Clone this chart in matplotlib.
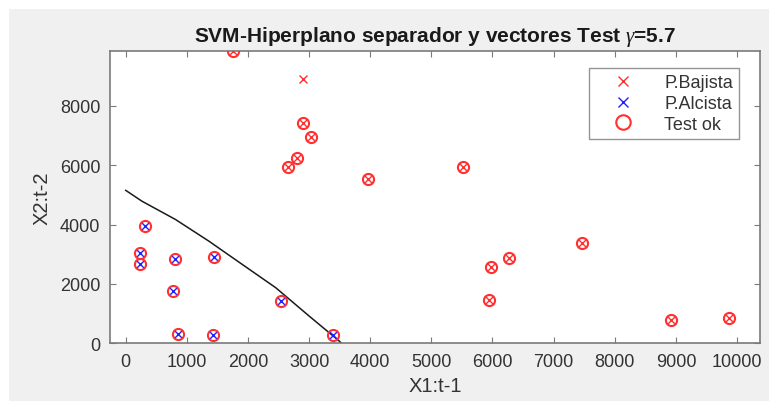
import matplotlib
matplotlib.use("Agg")
from matplotlib import pyplot as plt
from matplotlib.patches import Rectangle

plt.rcParams['font.family'] = ['Liberation Sans', 'DejaVu Sans']
plt.rcParams['mathtext.fontset'] = 'custom'
plt.rcParams['mathtext.it'] = 'Liberation Serif:italic'

# clase bajista (rojo)
bajX = [1750, 2895, 2895, 3031, 2802, 2660, 3959, 5523, 7460, 6275, 5971, 5943, 8920, 9874]
bajY = [9850, 8899, 7428, 6956, 6239, 5936, 5532, 5936, 3367, 2862, 2559, 1468, 795, 842]
# clase alcista (azul)
alcX = [316, 239, 239, 802, 1449, 769, 851, 1433, 2540, 3386]
alcY = [3939, 3051, 2660, 2828, 2916, 1771, 313, 269, 1414, 279]
# test ok
okX = [1750, 2895, 3031, 2802, 2660, 3959, 5523, 7460, 6275, 5971, 5943, 8920, 9874,
       316, 239, 239, 802, 1449, 769, 851, 1433, 2540, 3386]
okY = [9850, 7428, 6956, 6239, 5936, 5532, 5936, 3367, 2862, 2559, 1468, 795, 842,
       3939, 3051, 2660, 2828, 2916, 1771, 313, 269, 1414, 279]
# hiperplano
hipX = [0, 267, 815, 1361, 1907, 2454, 3000, 3492, 3530]
hipY = [5150, 4783, 4168, 3439, 2655, 1872, 918, 77, 0]

W, H = 769, 402
fig = plt.figure(figsize=(W/100, H/100), dpi=100, facecolor='white')
fig.patches.append(Rectangle((9/W, 0), 1, 1-10/H, transform=fig.transFigure,
                             facecolor='#f0f0f0', edgecolor='none', zorder=-10))
ax = fig.add_axes([110/W, 1-344.3/H, 650/W, (344.3-51.7)/H])
ax.set_facecolor('white')

gris = '#7a7a7a'
ax.plot(hipX, hipY, color='#1a1a1a', lw=1.1, zorder=2)
ax.plot(bajX, bajY, 'x', color='#ff3030', ms=5.5, mew=1.0, label='P.Bajista', zorder=3)
ax.plot(alcX, alcY, 'x', color='#2020ff', ms=5.5, mew=1.0, label='P.Alcista', zorder=4)
ax.plot(okX, okY, 'o', mfc='none', mec='#ff3030', ms=8, mew=1.5, label='Test ok', zorder=5)

ax.set_xlim(-257, 10376)
ax.set_ylim(0, 9852)
ax.set_xticks(range(0, 10001, 1000))
ax.set_yticks(range(0, 8001, 2000))
ax.tick_params(direction='in', length=4, width=0.8, color=gris, labelcolor='#333333',
               labelsize=13, top=True, right=True, pad=7)
for s in ax.spines.values():
    s.set_color(gris)
    s.set_linewidth(1.2)

ax.set_title(r'SVM-Hiperplano separador y vectores Test $\gamma$=5.7', fontsize=15,
             fontweight='bold', color='#1a1a1a', pad=7)
ax.set_xlabel('X1:t-1', fontsize=14.5, color='#333333', labelpad=4)
ax.set_ylabel('X2:t-2', fontsize=14.5, color='#333333', labelpad=6)

leg = ax.legend(loc='upper right', bbox_to_anchor=(0.968, 0.941), borderaxespad=0,
                fontsize=13, frameon=True, fancybox=False, handlelength=3.0,
                handletextpad=0.8, borderpad=0.35, labelspacing=0.2, markerscale=1.3)
leg.get_frame().set_edgecolor(gris)
leg.get_frame().set_linewidth(1.0)
for t in leg.get_texts():
    t.set_color('#333333')

fig.savefig('out.png', dpi=100, facecolor=fig.get_facecolor())
